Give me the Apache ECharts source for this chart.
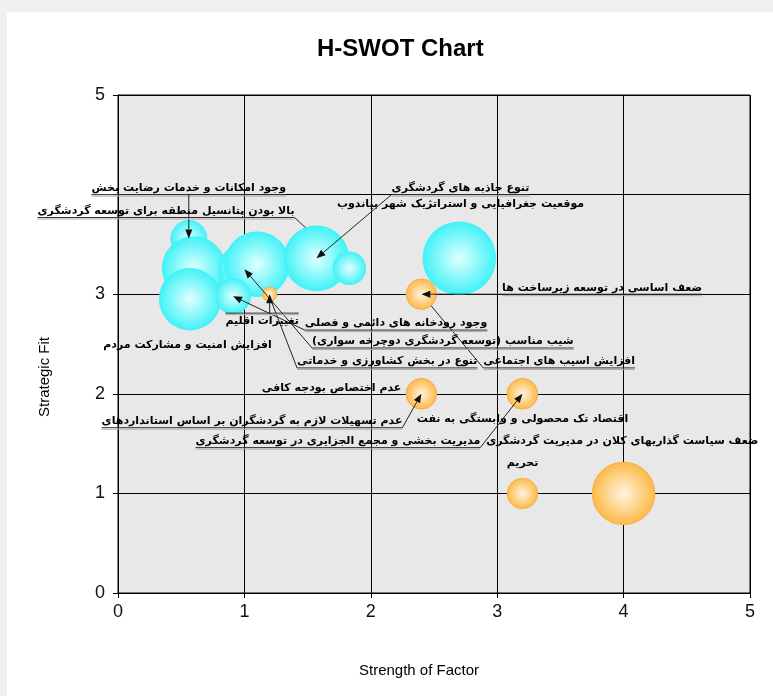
<!DOCTYPE html>
<html>
<head>
<meta charset="utf-8">
<script src="https://cdn.jsdelivr.net/npm/echarts@6/dist/echarts.min.js"></script>
<style>
  html, body { margin: 0; padding: 0; background: #f0f0f0; }
  #main { position: absolute; left: 7px; top: 12px; width: 766px; height: 684px; background: #fff; }
</style>
</head>
<body>
<div id="main"></div>
<script>
// 优势/机会 (青色气泡)
var cyanX = [0.56, 0.6, 0.57, 1.0, 1.1, 0.91, 1.57, 1.83, 2.7];
var cyanY = [3.56, 3.26, 2.95, 3.25, 3.3, 2.98, 3.36, 3.26, 3.36];
var cyanSize = [4.6, 8, 7.8, 6.5, 8.2, 4.5, 8.2, 4.2, 9.2];
// 劣势/威胁 (橙色气泡)
var orangeX = [2.4, 2.4, 2.4, 3.2, 3.2, 4.0, 3.2, 1.2];
var orangeY = [3.0, 2.0, 2.0, 2.0, 2.0, 1.0, 1.0, 3.0];
var orangeSize = [3.8, 3.8, 3.8, 3.8, 3.8, 7.8, 3.8, 1.8];
// 坐标轴刻度 (y轴的4被标签遮住, 不显示)
var xTicks = [0, 1, 2, 3, 4, 5];
var yTicks = [0, 1, 2, 3, 4, 5];
var yHidden = [4];

// 标签文字 + 指向的气泡 (c=青色, o=橙色)
var labelText = [
  "وجود امکانات و خدمات رضایت بخش",
  "بالا بودن پتانسیل منطقه برای توسعه گردشگری",
  "تنوع جاذبه های گردشگری",
  "موقعیت جغرافیایی و استراتژیک شهر بیاندوب",
  "وجود رودخانه های دائمی و فصلی",
  "شیب مناسب (توسعه گردشگری دوچرخه سواری)",
  "تنوع در بخش کشاورزی و خدماتی",
  "افزایش امنیت و مشارکت مردم",
  "ضعف اساسی در توسعه زیرساخت ها",
  "عدم اختصاص بودجه کافی",
  "عدم تسهیلات لازم به گردشگران بر اساس استانداردهای",
  "اقتصاد تک محصولی و وابستگی به نفت",
  "مدیریت بخشی و مجمع الجزایری در توسعه گردشگری",
  "ضعف سیاست گذاریهای کلان در مدیریت گردشگری",
  "تحریم",
  "تغییرات اقلیم",
  "افزایش اسیب های اجتماعی"
];
var labelTarget = [
  ["c", 0], ["c", 7], ["c", 6], ["c", 8], ["c", 5], ["c", 3], ["c", 4], ["c", 2],
  ["o", 0], ["o", 1], ["o", 2], ["o", 3], ["o", 4], ["o", 5], ["o", 6], ["o", 7], ["o", 0]
];

// 标签摆放 (布局): 文字中心x, 下划线y, 引线: 0无 1上层 2下层, 文字在线下方
var labelPosX = [0.56, 0.38, 2.71, 2.71, 2.2, 2.57, 2.13, 0.55, 3.83, 1.69, 1.06, 3.2, 1.74, 3.99, 3.2, 1.14, 3.49];
var labelPosY = [4.0, 3.77, 4.0, 3.84, 2.64, 2.46, 2.26, 2.42, 3.0, 1.99, 1.66, 1.68, 1.46, 1.46, 1.24, 2.81, 2.26];
var labelLead = [1, 2, 1, 0, 1, 1, 2, 0, 1, 0, 1, 0, 1, 0, 0, 1, 2];
var labelBelow = [0, 0, 0, 0, 0, 0, 0, 0, 0, 0, 0, 0, 0, 0, 0, 1, 0];

var LABEL_FONT = 'bold 11px "DejaVu Sans"';
var measureCtx = document.createElement("canvas").getContext("2d");
function textWidth (t) {
  measureCtx.font = LABEL_FONT;
  return measureCtx.measureText(t).width;
}
function targetOf (i) {
  var t = labelTarget[i];
  return t[0] === "c" ? [cyanX[t[1]], cyanY[t[1]]] : [orangeX[t[1]], orangeY[t[1]]];
}

// 引线 + 箭头
function leader (api, i, p) {
  var w = textWidth(labelText[i]);
  var t = api.coord(targetOf(i));
  var sx = Math.min(Math.max(t[0], p[0] - w / 2), p[0] + w / 2);
  var s = [sx, p[1]];
  var dx = t[0] - s[0], dy = t[1] - s[1];
  var len = Math.sqrt(dx * dx + dy * dy) || 1;
  var ux = dx / len, uy = dy / len;
  var bx = t[0] - ux * 9, by = t[1] - uy * 9;
  return [
    { type: "line", shape: { x1: s[0], y1: s[1], x2: bx, y2: by }, style: { stroke: "#222", lineWidth: 1 } },
    { type: "polygon", shape: { points: [t, [bx - uy * 3.5, by + ux * 3.5], [bx + uy * 3.5, by - ux * 3.5]] }, style: { fill: "#111" } }
  ];
}

function labelData () {
  return labelText.map(function (t, i) { return [labelPosX[i], labelPosY[i], i]; });
}

var cyanFill = new echarts.graphic.RadialGradient(0.5, 0.5, 0.5, [
  { offset: 0, color: "#e2ffff" },
  { offset: 1, color: "#3ff2f7" }
]);
var orangeFill = new echarts.graphic.RadialGradient(0.5, 0.5, 0.5, [
  { offset: 0, color: "#fff4e2" },
  { offset: 1, color: "#fdb944" }
]);

var myChart = echarts.init(document.getElementById("main"));
var axisFont = '"Liberation Sans Narrow", "Liberation Sans", Arial, sans-serif';
var option = {
  animation: false,
  title: {
    text: "H-SWOT Chart",
    left: 305,
    top: 20,
    textStyle: { color: "#000", fontSize: 24, fontWeight: "bold", fontFamily: axisFont }
  },
  grid: {
    left: 111, right: 23, top: 83, bottom: 103,
    show: true,
    backgroundColor: "#e8e8e8",
    borderColor: "#000",
    borderWidth: 1
  },
  xAxis: {
    type: "value", min: xTicks[0], max: xTicks[xTicks.length - 1], interval: 1,
    name: "Strength of Factor", nameLocation: "middle", nameGap: 70,
    nameTextStyle: { color: "#000", fontSize: 15, fontFamily: axisFont, padding: [0, 30, 0, 0] },
    axisLine: { show: true, lineStyle: { color: "#000" } },
    axisTick: { show: true, length: 5, lineStyle: { color: "#000" } },
    axisLabel: { color: "#111", fontSize: 18, margin: 10, fontFamily: axisFont },
    splitLine: { show: true, lineStyle: { color: "#000", width: 1 } }
  },
  yAxis: {
    type: "value", min: yTicks[0], max: yTicks[yTicks.length - 1], interval: 1,
    name: "Strategic Fit", nameLocation: "middle", nameGap: 66, nameRotate: 90,
    nameTextStyle: { color: "#000", fontSize: 15, fontFamily: axisFont, padding: [0, 66, 0, 0] },
    axisLine: { show: true, lineStyle: { color: "#000" } },
    axisTick: { show: true, length: 5, lineStyle: { color: "#000" } },
    axisLabel: {
      color: "#111", fontSize: 18, margin: 13, fontFamily: axisFont,
      formatter: function (v) { return yHidden.indexOf(v) >= 0 ? "" : String(v); }
    },
    splitLine: { show: true, lineStyle: { color: "#000", width: 1 } }
  },
  series: [
    {
      // 压在气泡下面的引线
      type: "custom",
      z: 1,
      silent: true,
      data: labelData(),
      renderItem: function (params, api) {
        var i = api.value(2);
        if (labelLead[i] !== 2) return;
        var p = api.coord([api.value(0), api.value(1)]);
        return { type: "group", children: leader(api, i, p) };
      }
    },
    {
      name: "Strength",
      type: "scatter",
      z: 2,
      silent: true,
      data: cyanX.map(function (x, i) { return [x, cyanY[i], cyanSize[i]]; }),
      symbolSize: function (v) { return v[2] * 8; },
      itemStyle: { color: cyanFill, opacity: 1 }
    },
    {
      name: "Weakness",
      type: "scatter",
      z: 3,
      silent: true,
      data: orangeX.map(function (x, i) { return [x, orangeY[i], orangeSize[i]]; }),
      symbolSize: function (v) { return v[2] * 8; },
      itemStyle: { color: orangeFill, opacity: 1, borderColor: "#f5b04a", borderWidth: 1 }
    },
    {
      // 文字、下划线和上层引线
      type: "custom",
      z: 5,
      silent: true,
      data: labelData(),
      renderItem: function (params, api) {
        var i = api.value(2);
        var p = api.coord([api.value(0), api.value(1)]);
        var w = textWidth(labelText[i]);
        var below = labelBelow[i] === 1;
        var children = [{
          type: "text",
          style: {
            text: labelText[i], x: p[0], y: below ? p[1] + 3 : p[1] - 1,
            align: "center", verticalAlign: below ? "top" : "bottom",
            font: LABEL_FONT, fill: "#000"
          }
        }];
        if (labelLead[i] > 0) {
          children.push({ type: "line", shape: { x1: p[0] - w / 2, y1: p[1], x2: p[0] + w / 2, y2: p[1] }, style: { stroke: "#333", lineWidth: 1 } });
          children.push({ type: "line", shape: { x1: p[0] - w / 2, y1: p[1] + 1.5, x2: p[0] + w / 2, y2: p[1] + 1.5 }, style: { stroke: "#aaa", lineWidth: 1 } });
        }
        if (labelLead[i] === 1) {
          children = children.concat(leader(api, i, p));
        }
        return { type: "group", children: children };
      }
    }
  ]
};
myChart.setOption(option);
window.addEventListener("resize", function () {
  myChart.resize();
});
</script>
</body>
</html>
